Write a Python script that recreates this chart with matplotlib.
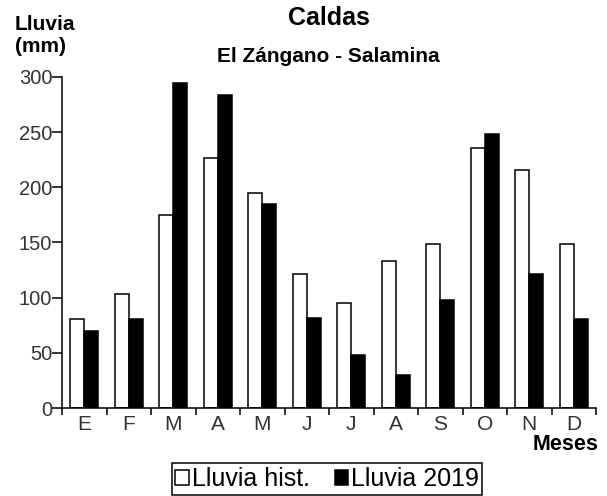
import matplotlib
matplotlib.use("Agg")
import matplotlib.pyplot as plt
import numpy as np

plt.rcParams['font.family'] = ['Liberation Sans', 'DejaVu Sans']

# data
meses = ['E', 'F', 'M', 'A', 'M', 'J', 'J', 'A', 'S', 'O', 'N', 'D']
lluvia_hist = [81, 103, 175, 227, 195, 121, 95, 133, 149, 236, 216, 149]
lluvia_2019 = [70, 81, 295, 284, 185, 82, 48, 30, 98, 248, 121, 81]
y_ticks = [0, 50, 100, 150, 200, 250, 300]

fig = plt.figure(figsize=(6.07, 4.96), dpi=100)
ax = fig.add_axes([62 / 607, 1 - 408 / 496, (596 - 62) / 607, (408 - 77) / 496])

x = np.arange(len(meses)) + 0.5
w = 0.32
ax.bar(x - w / 2, lluvia_hist, w, color='white', edgecolor='black', linewidth=1.1,
       label='Lluvia hist.')
ax.bar(x + w / 2, lluvia_2019, w, color='black', edgecolor='black', linewidth=1.1,
       label='Lluvia 2019')

ax.set_xlim(0, len(meses))
ax.set_ylim(0, 300)

# spines
for s in ['top', 'right']:
    ax.spines[s].set_visible(False)
for s in ['left', 'bottom']:
    ax.spines[s].set_linewidth(1.1)

# x ticks at boundaries, labels at centers
ax.set_xticks(np.arange(len(meses) + 1))
ax.set_xticklabels([])
ax.set_xticks(x, minor=True)
ax.set_xticklabels(meses, minor=True)
ax.tick_params(axis='x', which='major', length=5, width=1.1, direction='out')
ax.tick_params(axis='x', which='minor', length=0, pad=5, labelsize=15, labelcolor='#333333')

ax.set_yticks(y_ticks)
ax.tick_params(axis='y', length=7, width=1.1, direction='out', pad=0,
               labelsize=14.5, labelcolor='#333333')

# texts
fig.text(329 / 607, 1 - 18 / 496, 'Caldas', ha='center', va='center',
         fontsize=18, fontweight='bold')
fig.text(328 / 607, 1 - 56 / 496, 'El Zángano - Salamina', ha='center', va='center',
         fontsize=15, fontweight='bold')
fig.text(15 / 607, 1 - 35 / 496, 'Lluvia\n(mm)', ha='left', va='center',
         fontsize=15, fontweight='bold', linespacing=1.2)
fig.text(598 / 607, 1 - 445 / 496, 'Meses', ha='right', va='center',
         fontsize=15.5, fontweight='bold')

leg = fig.legend(loc='center', bbox_to_anchor=(327 / 607, 1 - 479 / 496), ncol=2,
                 fontsize=18, frameon=True, fancybox=False, framealpha=1,
                 edgecolor='black', handlelength=0.55, handleheight=0.55,
                 handletextpad=0.1, columnspacing=1.0, borderpad=0.15,
                 borderaxespad=0)
leg.get_frame().set_linewidth(1.1)

fig.savefig('out.png', dpi=100)
